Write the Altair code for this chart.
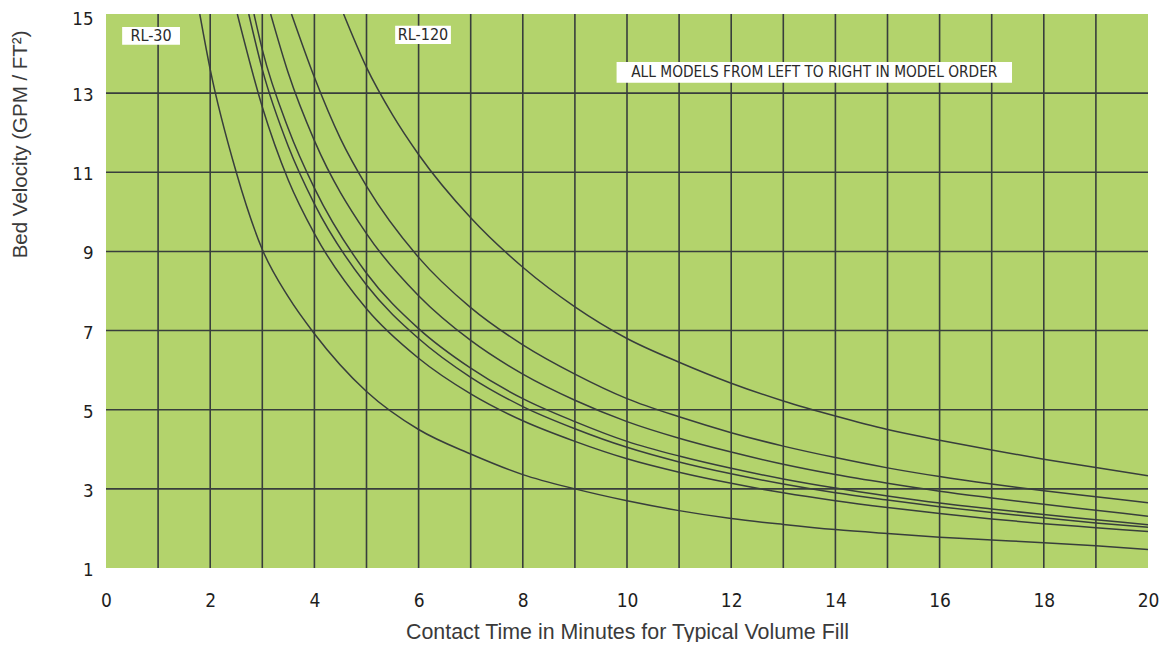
import altair as alt
import pandas as pd

# ---- data ----
grid_minutes = list(range(1, 20))
grid_velocity = [3, 5, 7, 9, 11, 13]
x_ticks = list(range(0, 21, 2))
y_ticks = list(range(1, 16, 2))

t_A = [1.8, 2, 2.5, 3, 3.5, 4, 5, 6, 7, 8, 9, 10, 11, 12, 13, 14, 15, 16, 17, 18, 19, 20]
v_A = [15, 13.6, 11.0, 9.05, 7.85, 6.92, 5.46, 4.5, 3.88, 3.36, 3.0, 2.70, 2.45, 2.25, 2.1, 1.97, 1.87, 1.78, 1.71, 1.64, 1.56, 1.47]

t_B = [2.52, 3, 3.5, 4, 5, 6, 7, 8, 9, 10, 11, 12, 13, 14, 15, 16, 17, 18, 19, 20]
v_B = [15, 12.65, 10.8, 9.45, 7.55, 6.3, 5.4, 4.72, 4.2, 3.76, 3.42, 3.14, 2.9, 2.7, 2.53, 2.38, 2.24, 2.12, 2.02, 1.92]

t_C = [2.74, 3, 3.5, 4, 5, 6, 7, 8, 9, 10, 11, 12, 13, 14, 15, 16, 17, 18, 19, 20]
v_C = [15, 13.6, 11.65, 10.2, 8.15, 6.8, 5.82, 5.08, 4.52, 4.05, 3.68, 3.38, 3.12, 2.9, 2.72, 2.55, 2.40, 2.27, 2.14, 2.03]

t_D = [2.84, 3, 3.5, 4, 5, 6, 7, 8, 9, 10, 11, 12, 13, 14, 15, 16, 17, 18, 19, 20]
v_D = [15, 14.1, 12.1, 10.6, 8.45, 7.05, 6.05, 5.28, 4.7, 4.2, 3.83, 3.52, 3.25, 3.02, 2.82, 2.64, 2.49, 2.35, 2.22, 2.09]

t_E = [3.16, 3.5, 4, 5, 6, 7, 8, 9, 10, 11, 12, 13, 14, 15, 16, 17, 18, 19, 20]
v_E = [15, 13.5, 11.8, 9.45, 7.88, 6.75, 5.9, 5.24, 4.70, 4.28, 3.93, 3.62, 3.36, 3.14, 2.94, 2.77, 2.61, 2.46, 2.31]

t_F = [3.56, 4, 4.5, 5, 6, 7, 8, 9, 10, 11, 12, 13, 14, 15, 16, 17, 18, 19, 20]
v_F = [15, 13.4, 11.85, 10.65, 8.85, 7.58, 6.64, 5.9, 5.28, 4.82, 4.42, 4.08, 3.79, 3.53, 3.31, 3.12, 2.95, 2.80, 2.65]

t_G = [4.56, 5, 5.5, 6, 7, 8, 9, 10, 11, 12, 13, 14, 15, 16, 17, 18, 19, 20]
v_G = [15, 13.65, 12.45, 11.45, 9.85, 8.6, 7.6, 6.8, 6.2, 5.67, 5.22, 4.84, 4.5, 4.23, 3.98, 3.75, 3.54, 3.33]

curves = {"A": (t_A, v_A), "B": (t_B, v_B), "C": (t_C, v_C), "D": (t_D, v_D),
          "E": (t_E, v_E), "F": (t_F, v_F), "G": (t_G, v_G)}

note_text = ["RL-30", "RL-120", "ALL MODELS FROM LEFT TO RIGHT IN MODEL ORDER"]
note_x1 = [0.31, 5.55, 9.8]
note_x2 = [1.42, 6.62, 17.39]
note_y1 = [14.22, 14.24, 13.26]
note_y2 = [14.67, 14.70, 13.79]
note_size = [16, 16, 15.3]

# ---- build tables ----
rows = []
for name, (ts, vs) in curves.items():
    for t, v in zip(ts, vs):
        rows.append({"curve": name, "t": t, "v": v})
df = pd.DataFrame(rows)

notes = pd.DataFrame({"text": note_text, "x1": note_x1, "x2": note_x2,
                      "y1": note_y1, "y2": note_y2, "size": note_size})
notes["xc"] = (notes["x1"] + notes["x2"]) / 2
notes["yc"] = (notes["y1"] + notes["y2"]) / 2

LINE = "#383e3c"
COND = "Liberation Sans Narrow, DejaVu Sans Condensed, Arial Narrow, sans-serif"

xs = alt.Scale(domain=[0, 20], nice=False, zero=False)
ys = alt.Scale(domain=[1, 15], nice=False, zero=False)

x_axis = alt.Axis(
    values=x_ticks, title="Contact Time in Minutes for Typical Volume Fill",
    grid=False, ticks=False, domain=False, labelFont=COND, labelFontSize=19,
    labelColor="#1e1e1e", labelPadding=23, titleFont="Liberation Sans",
    titleFontSize=21.4, titleFontWeight="normal", titleColor="#3a3a3a",
    titlePadding=11, labelFlush=False)
y_axis = alt.Axis(
    values=y_ticks, title="Bed Velocity (GPM / FT²)", grid=False,
    ticks=False, domain=False, labelFont=COND, labelFontSize=18.5,
    labelColor="#1e1e1e", labelPadding=13,
    labelOffset={"condition": {"test": "datum.value == 15", "value": 4}, "value": 1.5},
    titleFont="Liberation Sans",
    titleFontSize=20.5, titleFontWeight="normal", titleColor="#3a3a3a",
    titleAngle=-90, titleAlign="right", titleBaseline="middle",
    titleX=-86, titleY=16, labelFlush=False)

lines = alt.Chart(df).mark_line(
    color=LINE, strokeWidth=1.5, interpolate="monotone", clip=True
).encode(
    x=alt.X("t:Q", scale=xs, axis=x_axis),
    y=alt.Y("v:Q", scale=ys, axis=y_axis),
    detail="curve:N",
)

vgrid = alt.Chart(pd.DataFrame({"g": grid_minutes})).mark_rule(
    color=LINE, strokeWidth=1.6
).encode(x=alt.X("g:Q", scale=xs, axis=x_axis))

hgrid = alt.Chart(pd.DataFrame({"g": grid_velocity})).mark_rule(
    color=LINE, strokeWidth=1.6
).encode(y=alt.Y("g:Q", scale=ys, axis=y_axis))

boxes = alt.Chart(notes).mark_rect(color="white").encode(
    x=alt.X("x1:Q", scale=xs, axis=x_axis), x2="x2:Q",
    y=alt.Y("y1:Q", scale=ys, axis=y_axis), y2="y2:Q",
)

labels = alt.Chart(notes).mark_text(
    font=COND, color="#2a2a2a", align="center", baseline="middle"
).encode(
    x=alt.X("xc:Q", scale=xs, axis=x_axis), y=alt.Y("yc:Q", scale=ys, axis=y_axis),
    text="text:N", size=alt.Size("size:Q", scale=None, legend=None),
)

chart = alt.layer(vgrid, hgrid, lines, boxes, labels).properties(
    width=1042, height=554,
    autosize=alt.AutoSizeParams(type="none"),
    padding={"left": 98, "top": 6, "right": 11, "bottom": 74},
    background="white",
).configure_view(fill="#b3d36c", stroke="transparent", strokeWidth=0)

chart.save("out.html", embed_options={"renderer": "svg", "actions": False})
